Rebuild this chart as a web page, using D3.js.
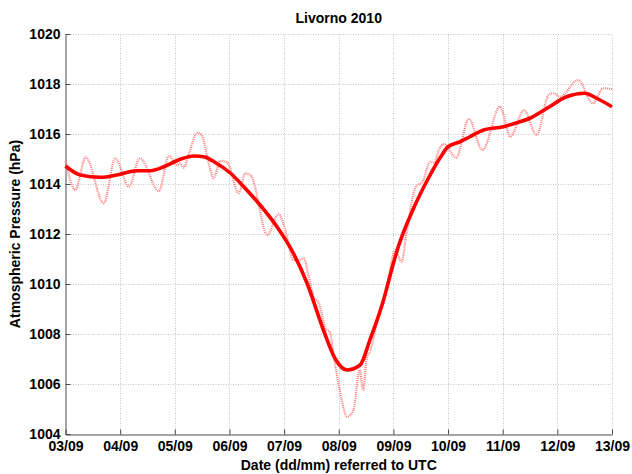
<!DOCTYPE html>
<html>
<head>
<meta charset="utf-8">
<script src="https://cdn.jsdelivr.net/npm/d3@7"></script>
<style>
  html, body { margin: 0; padding: 0; background: #fff; }
  svg { display: block; font-family: "Liberation Sans", Arial, Helvetica, sans-serif; }
</style>
</head>
<body>
<svg id="chart" width="632" height="474"></svg>
<script>
// Hourly-resolution pressure at Livorno, days counted from 03/09 00:00 UTC
const rawDay = [0.00, 0.18, 0.37, 0.70, 0.91, 1.16, 1.36, 1.71, 1.89, 2.04, 2.10, 2.16, 2.27, 2.41, 2.49,
  2.62, 2.71, 2.83, 2.96, 3.17, 3.29, 3.38, 3.47, 3.53, 3.69, 3.90, 4.02, 4.17, 4.25, 4.36, 4.45,
  4.54, 4.62, 4.78, 4.83, 4.93, 5.05, 5.15, 5.27, 5.38, 5.45, 5.51, 5.57, 5.70, 5.82, 5.90, 6.03,
  6.15, 6.24, 6.40, 6.55, 6.67, 6.75, 6.83, 6.93, 7.15, 7.38, 7.63, 7.95, 8.14, 8.39, 8.62, 8.84,
  8.93, 9.05, 9.38, 9.65, 9.84, 10.00];
const rawHpa = [1014.93, 1013.76, 1015.07, 1013.23, 1015.03, 1013.89, 1015.03, 1013.72, 1015.12, 1014.76,
  1014.83, 1014.65, 1015.29, 1016.05, 1015.96, 1014.83, 1014.23, 1014.93, 1014.87, 1013.63, 1014.43,
  1014.36, 1013.89, 1013.23, 1011.96, 1012.80, 1012.16, 1010.96, 1010.95, 1011.03, 1010.30, 1009.49,
  1009.30, 1008.16, 1008.10, 1006.83, 1005.40, 1004.69, 1004.96, 1006.56, 1005.76, 1007.03, 1007.29,
  1008.43, 1009.36, 1010.10, 1011.36, 1010.89, 1012.03, 1013.83, 1014.16, 1014.89, 1014.85, 1015.36,
  1015.60, 1015.05, 1016.60, 1015.36, 1017.09, 1015.89, 1016.96, 1015.96, 1017.56, 1017.63, 1017.49,
  1018.16, 1017.23, 1017.83, 1017.79];

// Low-pass filtered pressure
const smoothDay = [0.00, 0.27, 0.64, 0.94, 1.31, 1.55, 1.80, 2.10, 2.35, 2.55, 2.71, 3.02, 3.30, 3.56,
  3.87, 4.17, 4.42, 4.72, 4.93, 5.15, 5.39, 5.57, 5.82, 6.00, 6.09, 6.37, 6.64, 6.85, 7.00, 7.22, 7.40,
  7.65, 8.01, 8.26, 8.50, 8.81, 9.17, 9.50, 9.72, 10.00];
const smoothHpa = [1014.72, 1014.36, 1014.27, 1014.36, 1014.53, 1014.53, 1014.69, 1014.99, 1015.12,
  1015.08, 1014.90, 1014.43, 1013.80, 1013.16, 1012.29, 1011.23, 1010.03, 1008.16, 1007.03, 1006.56,
  1006.76, 1007.76, 1009.36, 1010.83, 1011.49, 1013.03, 1014.23, 1015.03, 1015.49, 1015.69, 1015.89,
  1016.16, 1016.29, 1016.45, 1016.63, 1017.03, 1017.49, 1017.63, 1017.43, 1017.09];

const dayTicks = [0, 1, 2, 3, 4, 5, 6, 7, 8, 9, 10];
const dayLabels = ["03/09", "04/09", "05/09", "06/09", "07/09", "08/09", "09/09", "10/09", "11/09", "12/09", "13/09"];
const hpaTicks = [1004, 1006, 1008, 1010, 1012, 1014, 1016, 1018, 1020];

const svg = d3.select("#chart");
const margin = { left: 65.5, right: 20, top: 34, bottom: 40 };
const W = 632, H = 474;
const x = d3.scaleLinear().domain([0, 10]).range([margin.left, W - margin.right]);
const y = d3.scaleLinear().domain([1004, 1020]).range([H - margin.bottom, margin.top]);

// grid
const grid = svg.append("g").attr("stroke", "#c4c4c4").attr("stroke-width", 1).attr("stroke-dasharray", "1,1.5");
grid.selectAll("line.v").data(dayTicks.slice(1)).join("line")
  .attr("x1", d => Math.round(x(d)) + 0.5).attr("x2", d => Math.round(x(d)) + 0.5)
  .attr("y1", y(1004)).attr("y2", y(1020));
grid.selectAll("line.h").data(hpaTicks.slice(1)).join("line")
  .attr("x1", x(0)).attr("x2", x(10))
  .attr("y1", d => Math.round(y(d)) + 0.5).attr("y2", d => Math.round(y(d)) + 0.5);

// axes
const axisColor = "#4a4a4a";
const gx = svg.append("g").attr("transform", `translate(0,${y(1004) + 0.5})`)
  .call(d3.axisBottom(x).tickValues(dayTicks).tickFormat((d, i) => dayLabels[i])
    .tickSizeInner(-5).tickSizeOuter(0).tickPadding(7));
const gy = svg.append("g").attr("transform", `translate(${x(0)},0)`)
  .call(d3.axisLeft(y).tickValues(hpaTicks).tickFormat(d3.format("d"))
    .tickSizeInner(-5).tickSizeOuter(0).tickPadding(5));
[gx, gy].forEach(g => {
  g.select(".domain").attr("stroke", axisColor);
  g.selectAll(".tick line").attr("stroke", axisColor);
  g.selectAll(".tick text").attr("fill", "#000").attr("font-size", 14).attr("font-weight", "bold")
    .attr("font-family", "'Liberation Sans', Arial, sans-serif");
});

// series
const rawLine = d3.line().x(d => x(d[0])).y(d => y(d[1])).curve(d3.curveMonotoneX);
const smoothLine = d3.line().x(d => x(d[0])).y(d => y(d[1])).curve(d3.curveMonotoneX);

svg.append("path")
  .datum(rawDay.map((d, i) => [d, rawHpa[i]]))
  .attr("d", rawLine).attr("fill", "none")
  .attr("stroke", "#ff7e7e").attr("stroke-width", 2.2).attr("stroke-dasharray", "1,1");

svg.append("path")
  .datum(smoothDay.map((d, i) => [d, smoothHpa[i]]))
  .attr("d", smoothLine).attr("fill", "none")
  .attr("stroke", "#ff0000").attr("stroke-width", 3.6).attr("stroke-linejoin", "round");

// labels
svg.append("text").attr("x", (x(0) + x(10)) / 2).attr("y", 23)
  .attr("text-anchor", "middle").attr("font-size", 14).attr("font-weight", "bold")
  .text("Livorno 2010");
svg.append("text").attr("x", (x(0) + x(10)) / 2).attr("y", 470)
  .attr("text-anchor", "middle").attr("font-size", 14).attr("font-weight", "bold")
  .text("Date (dd/mm) referred to UTC");
svg.append("text").attr("transform", `translate(20,${(y(1004) + y(1020)) / 2}) rotate(-90)`)
  .attr("text-anchor", "middle").attr("font-size", 14).attr("font-weight", "bold")
  .text("Atmospheric Pressure (hPa)");
</script>
</body>
</html>
